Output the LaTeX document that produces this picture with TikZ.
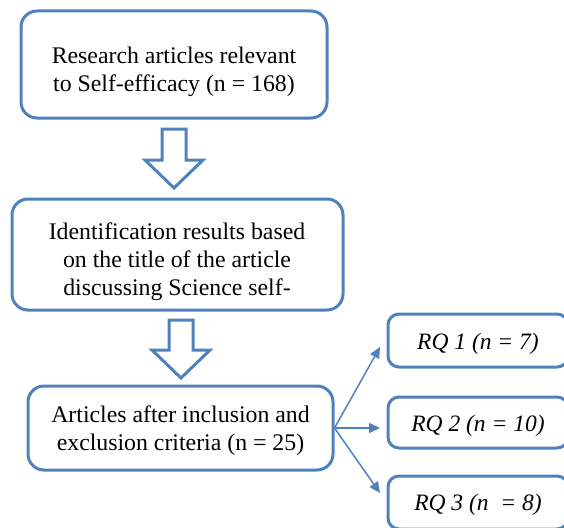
\documentclass[tikz,border=0pt]{standalone}
\usepackage{fontspec}
\setmainfont{Liberation Serif}
\usetikzlibrary{arrows.meta}
\definecolor{ofblue}{RGB}{79,129,189}
\begin{document}
\begin{tikzpicture}[x=1pt,y=-1pt,
 box/.style={draw=ofblue,line width=3pt,rounded corners=16pt,fill=white,inner sep=0pt},
 rqbox/.style={box,rounded corners=11pt,minimum width=180pt},
 txt/.style={align=center,font=\fontsize{23.8}{28.3}\selectfont,inner sep=0pt},
 rqtxt/.style={font=\fontsize{23.5}{28}\selectfont\itshape,inner sep=0pt},
 blockarrow/.style={draw=ofblue,line width=3pt,fill=white,line join=miter},
 conn/.style={draw=ofblue,line width=1.5pt,-{Triangle[length=11pt,width=10pt]}}]
\clip (0,0) rectangle (564,527);
\useasboundingbox (0,0) rectangle (564,527);
% boxes
\node[box,minimum width=306pt,minimum height=107pt] (b1) at (174,64.5) {};
\node[box,minimum width=331pt,minimum height=111pt] (b2) at (177.5,254.5) {};
\node[box,minimum width=305pt,minimum height=84pt] (b3) at (180.5,428) {};
\node[rqbox,minimum height=53pt] (rq1) at (478,340.5) {};
\node[rqbox,minimum height=51pt] (rq2) at (478,422.5) {};
\node[rqbox,minimum height=53pt] (rq3) at (478,502.5) {};
% texts
\node[txt] (t1txt) at (174,71.5) {Research articles relevant\\to Self-efficacy (n = 168)};
\node[txt] (t2txt) at (177,261.5) {Identification results based\\on the title of the article\\discussing Science self-};
\node[txt] (t3txt) at (180.5,430.5) {Articles after inclusion and\\exclusion criteria (n = 25)};
\node[rqtxt] (rq1txt) at (478,343.5) {RQ 1 (n = 7)};
\node[rqtxt] (rq2txt) at (478,425.5) {RQ 2 (n = 10)};
\node[rqtxt] (rq3txt) at (478,504.5) {RQ 3 (n \ = 8)};
% block arrows
\draw[blockarrow] (162,129) -- (186,129) -- (186,160) -- (203,160) -- (174,188) -- (145,160) -- (162,160) -- cycle;
\draw[blockarrow] (169,320) -- (193,320) -- (193,350) -- (210,350) -- (181,378) -- (152,350) -- (169,350) -- cycle;
% connectors
\coordinate (e1) at (380,347);
\coordinate (e2) at (380,428);
\coordinate (e3) at (380,493);
\draw[conn] (b3.east) -- (e1);
\draw[conn] (b3.east) -- (e2);
\draw[conn] (b3.east) -- (e3);
\end{tikzpicture}
\end{document}
